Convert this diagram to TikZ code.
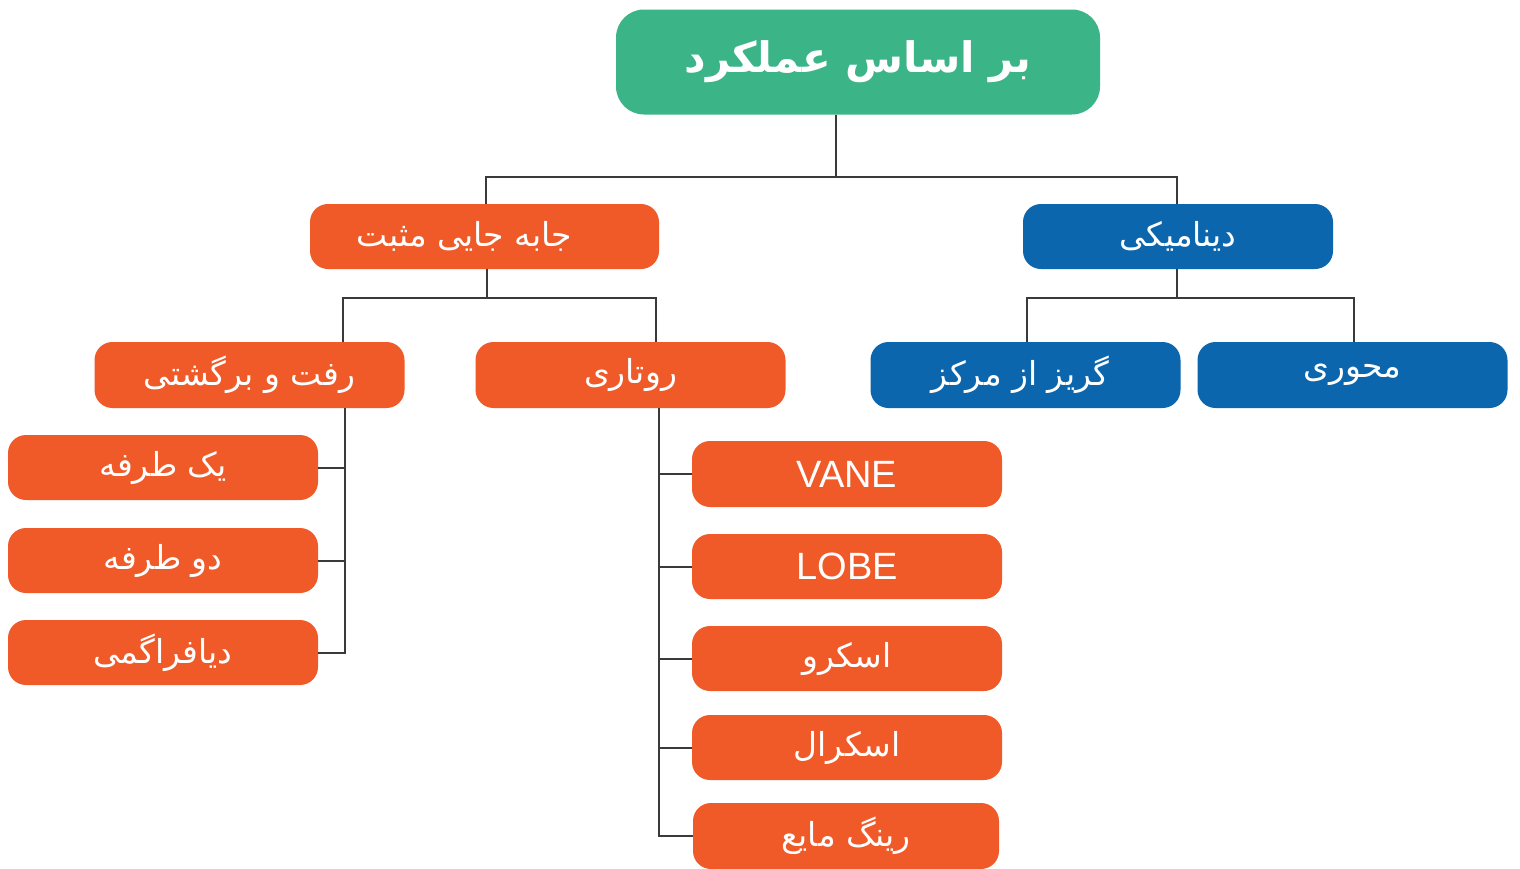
\documentclass[tikz,border=0pt]{standalone}
\usepackage{fontspec}
\setmainfont{Liberation Sans}
\newfontfamily\fa[Script=Arabic]{DejaVu Sans}
\TeXXeTstate=1
\definecolor{cgreen}{HTML}{3BB588}
\definecolor{corange}{HTML}{F05A28}
\definecolor{cblue}{HTML}{0B66AD}
\definecolor{cline}{HTML}{3A3A3A}
\tikzset{
  box/.style={rectangle, rounded corners=18pt, draw=none, text=white, inner sep=0pt, minimum width=310pt, minimum height=65pt, font=\fa\fontsize{33}{38}\selectfont},
  obox/.style={box, fill=corange},
  bbox/.style={box, fill=cblue},
  rootbox/.style={box, fill=cgreen, rounded corners=28pt, minimum width=484pt, minimum height=105pt, font=\fa\bfseries\fontsize{42}{48}\selectfont},
  conn/.style={draw=cline, line width=2pt, line join=miter}
}
\newcommand{\rtl}[1]{\beginR #1\endR}
\begin{document}
\begin{tikzpicture}[x=1pt,y=-1pt]
\useasboundingbox (0,0) rectangle (1520,868);
\fill[white] (0,0) rectangle (1520,868);
% nodes
\node[rootbox] (root) at (858,62) {\rtl{بر اساس عملکرد}};
\node[obox, minimum width=349pt] (pos) at (484.5,236.5) {\raisebox{5pt}{\hspace*{-40pt}\rtl{جابه جایی مثبت}}};
\node[bbox] (dyn) at (1178,236.5) {\rtl{دینامیکی}};
\node[obox, minimum height=66pt] (recip) at (249.5,375) {\raisebox{3pt}{\rtl{رفت و برگشتی}}};
\node[obox, minimum height=66pt] (rot) at (630.5,375) {\raisebox{4pt}{\rtl{روتاری}}};
\node[bbox, minimum height=66pt] (cent) at (1025.5,375) {\raisebox{2pt}{\hspace*{-10pt}\rtl{گریز از مرکز}}};
\node[bbox, minimum height=66pt] (axial) at (1352.5,375) {\rtl{محوری}};
\node[obox] (one) at (163,467.5) {\rtl{یک طرفه}};
\node[obox] (two) at (163,560.5) {\rtl{دو طرفه}};
\node[obox] (diaph) at (163,652.5) {\rtl{دیافراگمی}};
\node[obox, minimum height=66pt, font=\fontsize{38}{44}\selectfont] (vane) at (847,474) {VANE};
\node[obox, font=\fontsize{38}{44}\selectfont] (lobe) at (847,566.5) {LOBE};
\node[obox] (screw) at (847,658.5) {\rtl{اسکرو}};
\node[obox] (scroll) at (847,747.5) {\rtl{اسکرال}};
\node[obox, minimum width=306pt, minimum height=66pt] (ring) at (846,836) {\rtl{رینگ مایع}};
% connectors
\coordinate (j1) at (836,177);
\draw[conn] ([xshift=-22pt]root.south) -- (j1);
\draw[conn] ([xshift=1.5pt]pos.north) |- (j1) -| ([xshift=-1pt]dyn.north);
\coordinate (j2) at (487,298);
\draw[conn] ([xshift=2.5pt]pos.south) -- (j2);
\draw[conn] ([xshift=93.5pt]recip.north) |- (j2) -| ([xshift=25.5pt]rot.north);
\coordinate (j3) at (1177,298);
\draw[conn] ([xshift=-1pt]dyn.south) -- (j3);
\draw[conn] ([xshift=1.5pt]cent.north) |- (j3) -| ([xshift=1.5pt]axial.north);
\coordinate (l1) at (345,652.5);
\draw[conn] ([xshift=95.5pt]recip.south) -- (l1) -- (diaph.east);
\draw[conn] (one.east) -- (one.east -| l1);
\draw[conn] (two.east) -- (two.east -| l1);
\coordinate (r1) at (659,836);
\draw[conn] ([xshift=28.5pt]rot.south) -- (r1) -- (ring.west);
\draw[conn] (vane.west) -- (vane.west -| r1);
\draw[conn] (lobe.west) -- (lobe.west -| r1);
\draw[conn] (screw.west) -- (screw.west -| r1);
\draw[conn] (scroll.west) -- (scroll.west -| r1);
\end{tikzpicture}
\end{document}
